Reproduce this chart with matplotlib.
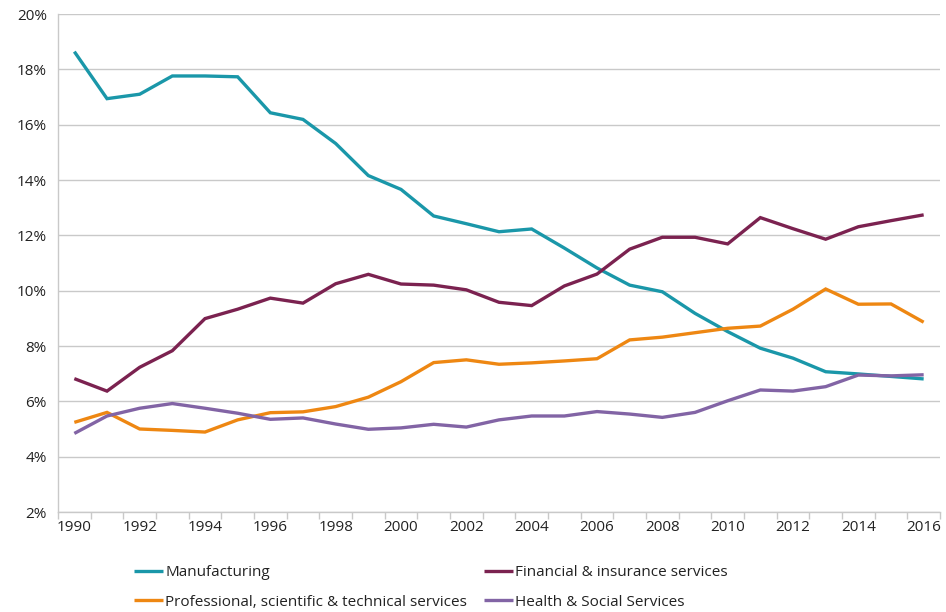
import numpy as np
import matplotlib
matplotlib.use('Agg')
import matplotlib.pyplot as plt
from matplotlib.ticker import FixedLocator, FuncFormatter

plt.rcParams['font.family'] = ['Open Sans', 'DejaVu Sans']

# %% share of output by sector, 1990-2016 [%]
years = list(range(1990, 2017))

manufacturing = [18.64, 16.94, 17.10, 17.76, 17.76, 17.73, 16.43, 16.19, 15.32, 14.16,
                 13.66, 12.70, 12.42, 12.13, 12.23, 11.54, 10.82, 10.20, 9.96, 9.18,
                 8.52, 7.92, 7.56, 7.07, 6.99, 6.90, 6.81]
financial = [6.82, 6.37, 7.23, 7.83, 8.99, 9.33, 9.73, 9.55, 10.25, 10.59,
             10.24, 10.20, 10.03, 9.58, 9.46, 10.17, 10.60, 11.50, 11.93, 11.93,
             11.69, 12.64, 12.24, 11.86, 12.31, 12.53, 12.74]
professional = [5.24, 5.60, 5.00, 4.95, 4.89, 5.33, 5.59, 5.62, 5.81, 6.15,
                6.71, 7.40, 7.50, 7.34, 7.39, 7.46, 7.54, 8.22, 8.32, 8.48,
                8.64, 8.72, 9.33, 10.06, 9.51, 9.52, 8.86]
health = [4.84, 5.47, 5.75, 5.92, 5.75, 5.57, 5.35, 5.40, 5.18, 4.99,
          5.04, 5.17, 5.07, 5.33, 5.47, 5.47, 5.63, 5.54, 5.42, 5.60,
          6.02, 6.41, 6.37, 6.53, 6.95, 6.92, 6.96]

series = [
    ("Manufacturing", manufacturing, "#1a97a9"),
    ("Financial & insurance services", financial, "#7b2250"),
    ("Professional, scientific & technical services", professional, "#ee8712"),
    ("Health & Social Services", health, "#8264a5"),
]

# %%
fig = plt.figure(figsize=(9.46, 6.12), dpi=100)
ax = fig.add_axes([58 / 946, 1 - 512 / 612, 882 / 946, 498 / 612])

idx = np.arange(len(years))
lines = {}
for name, vals, col in series:
    lines[name], = ax.plot(idx, vals, color=col, lw=2.4, label=name,
                           solid_joinstyle='miter', solid_capstyle='butt')

ax.set_xlim(-0.5, len(years) - 0.5)
ax.set_ylim(2, 20)
ax.set_yticks(np.arange(2, 21, 2))
ax.yaxis.set_major_formatter(FuncFormatter(lambda v, p: f"{v:.0f}%"))
ax.grid(axis='y', color='#c9c9c9', lw=1)
ax.set_axisbelow(True)

# category axis: labels every other year, tick marks between categories
ax.xaxis.set_major_locator(FixedLocator(idx[::2]))
ax.set_xticklabels([str(y) for y in years[::2]])
ax.xaxis.set_minor_locator(FixedLocator(np.arange(-0.5, len(years), 1)))
ax.tick_params(axis='x', which='major', length=0, pad=6, labelsize=11, colors='#222222')
ax.tick_params(axis='x', which='minor', length=5, width=1, color='#c9c9c9')
ax.tick_params(axis='y', length=0, pad=8, labelsize=11, colors='#222222')

for s in ('top', 'right'):
    ax.spines[s].set_visible(False)
for s in ('left', 'bottom'):
    ax.spines[s].set_color('#c9c9c9')
    ax.spines[s].set_linewidth(1)

order = ["Manufacturing", "Professional, scientific & technical services",
         "Financial & insurance services", "Health & Social Services"]
fig.legend([lines[n] for n in order], order, ncol=2, frameon=False,
           loc='upper left', bbox_to_anchor=(128 / 946, 1 - 559 / 612),
           fontsize=11, handlelength=1.9, handletextpad=0.15,
           columnspacing=1.1, labelspacing=0.95, borderaxespad=0,
           labelcolor='#222222')

fig.savefig('out.png', dpi=100)
